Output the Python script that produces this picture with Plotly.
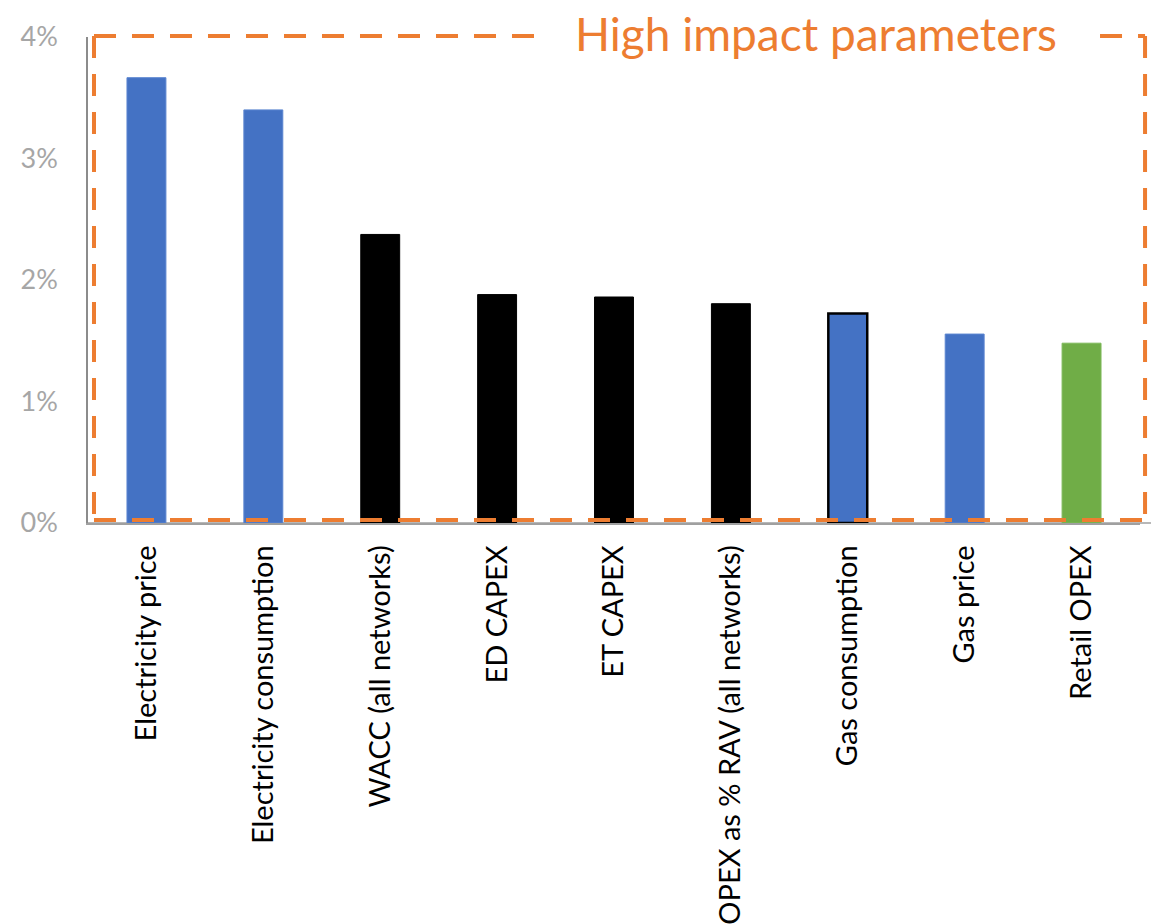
import plotly.graph_objects as go

# Sensitivity of the outcome to each input parameter (%)
parameters = [
    "Electricity price",
    "Electricity consumption",
    "WACC (all networks)",
    "ED CAPEX",
    "ET CAPEX",
    "OPEX as % RAV (all networks)",
    "Gas consumption",
    "Gas price",
    "Retail OPEX",
]
impact = [3.665, 3.40, 2.375, 1.88, 1.86, 1.805, 1.725, 1.555, 1.48]
bar_colors = ["#4472C4", "#4472C4", "#000000", "#000000", "#000000",
              "#000000", "#4472C4", "#4472C4", "#70AD47"]
outline_colors = ["#5B85D0", "#5B85D0", "#000000", "#000000", "#000000",
                  "#000000", "#000000", "#5B85D0", "#7DB85A"]
outline_widths = [1, 1, 1, 1, 1, 1, 2.5, 1, 1]
y_ticks = [0, 1, 2, 3, 4]
y_tick_text = ["0%", "1%", "2%", "3%", "4%"]
frame_title = "High impact parameters"

ORANGE = "#ED7D31"

fig = go.Figure(
    go.Bar(
        x=parameters,
        y=impact,
        width=0.333,
        marker=dict(color=bar_colors,
                    line=dict(color=outline_colors, width=outline_widths)),
        hoverinfo="x+y",
    )
)

fig.update_layout(
    width=1151,
    height=924,
    margin=dict(l=88, r=11, t=37, b=401, autoexpand=False),
    paper_bgcolor="white",
    plot_bgcolor="white",
    showlegend=False,
    font=dict(family="Lato, sans-serif"),
)

fig.update_yaxes(
    range=[0, 4],
    tickvals=y_ticks,
    ticktext=y_tick_text,
    showgrid=False,
    zeroline=False,
    showline=True,
    linecolor="#8C8C8C",
    linewidth=1.5,
    ticks="",
    ticklabelstandoff=23,
    tickfont=dict(size=27, color="#A6A6A6", family="Lato, sans-serif"),
)

fig.update_xaxes(
    showgrid=False,
    showline=True,
    linecolor="#A0A0A0",
    linewidth=1.5,
    ticks="",
    tickangle=-90,
    ticklabelstandoff=9,
    tickfont=dict(size=29, color="#000000", family="Lato, sans-serif"),
)

# Category axis line runs on to the right edge of the chart
fig.add_shape(type="line", xref="paper", yref="paper",
              x0=0, y0=0, x1=1.02, y1=0,
              line=dict(color="#A0A0A0", width=1.5), layer="below")

# Dashed frame around the high impact parameters, with a gap for its caption
dash = "22px,16px"
frame_line = dict(color=ORANGE, width=4, dash=dash)
x_left, x_right = 0.0057, 1.0048
y_bottom, y_top = 0.006, 1.002
segments = [
    (x_left, y_top, 0.437, y_top),      # top, left of caption
    (0.962, y_top, x_right, y_top),     # top, right of caption
    (x_left, y_top, x_left, y_bottom),  # left side
    (x_right, y_top, x_right, y_bottom),  # right side
    (x_left, y_bottom, x_right, y_bottom),  # bottom
]
for x0, y0, x1, y1 in segments:
    fig.add_shape(type="line", xref="paper", yref="paper",
                  x0=x0, y0=y0, x1=x1, y1=y1,
                  line=frame_line, layer="above")

fig.add_annotation(
    text=frame_title,
    xref="paper", yref="paper",
    x=0.692, y=1.008,
    xanchor="center", yanchor="middle",
    showarrow=False,
    font=dict(size=46, color=ORANGE, family="Lato, sans-serif"),
)

fig.write_html("out.html")
